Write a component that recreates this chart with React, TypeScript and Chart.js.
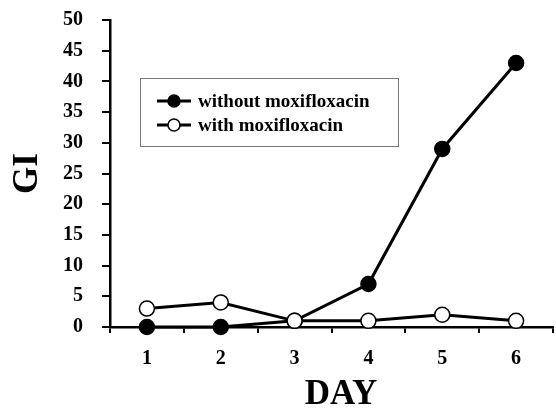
import React, { useEffect, useRef } from "react";
import { Chart, registerables } from "chart.js";

Chart.register(...registerables);

const days = ["1", "2", "3", "4", "5", "6"];
const withoutMoxi = [0, 0, 1, 7, 29, 43];
const withMoxi = [3, 4, 1, 1, 2, 1];
const legendLabels = ["without moxifloxacin", "with moxifloxacin"];
const xTitle = "DAY";
const yTitle = "GI";
const yMin = 0;
const yMax = 50;
const yStep = 5;

const FONT = '"Liberation Serif", "Times New Roman", serif';

const legendPlugin = {
  id: "boxLegend",
  afterDraw(chart: any) {
    const ctx = chart.ctx;
    ctx.save();
    const bx = 140, by = 78, bw = 258, bh = 68;
    ctx.strokeStyle = "#777";
    ctx.lineWidth = 1;
    ctx.strokeRect(bx + 0.5, by + 0.5, bw, bh);
    const rows = [
      { y: 101, fill: "#000" },
      { y: 125, fill: "#fff" },
    ];
    rows.forEach((r, i) => {
      ctx.strokeStyle = "#000";
      ctx.lineWidth = 3;
      ctx.beginPath();
      ctx.moveTo(157, r.y);
      ctx.lineTo(191, r.y);
      ctx.stroke();
      ctx.beginPath();
      ctx.arc(174, r.y, 6, 0, Math.PI * 2);
      ctx.fillStyle = r.fill;
      ctx.fill();
      ctx.lineWidth = 1.5;
      ctx.stroke();
      ctx.fillStyle = "#000";
      ctx.font = `bold 19px ${FONT}`;
      ctx.textBaseline = "middle";
      ctx.textAlign = "left";
      ctx.fillText(legendLabels[i], 198, r.y + 1);
    });
    // x-axis title
    ctx.font = `bold 35px ${FONT}`;
    ctx.textAlign = "center";
    ctx.textBaseline = "middle";
    ctx.fillStyle = "#000";
    ctx.fillText(xTitle, 341, 395);
    ctx.restore();
  },
};

export default function App() {
  const ref = useRef<HTMLCanvasElement>(null);
  useEffect(() => {
    if (!ref.current) return;
    const chart = new Chart(ref.current, {
      type: "line",
      data: {
        labels: days,
        datasets: [
          {
            label: legendLabels[0],
            data: withoutMoxi,
            borderColor: "#000",
            backgroundColor: "#000",
            pointBackgroundColor: "#000",
            pointBorderColor: "#000",
            borderWidth: 3,
            pointRadius: 7.5,
            pointBorderWidth: 1.5,
            order: 1,
            clip: false as any,
          },
          {
            label: legendLabels[1],
            data: withMoxi,
            borderColor: "#000",
            backgroundColor: "#fff",
            pointBackgroundColor: "#fff",
            pointBorderColor: "#000",
            borderWidth: 3,
            pointRadius: 7.5,
            pointBorderWidth: 1.5,
            order: 0,
            clip: false as any,
          },
        ],
      },
      options: {
        responsive: false,
        animation: false,
        layout: { padding: { top: 20, right: 2, left: 0, bottom: 0 } },
        plugins: { legend: { display: false }, tooltip: { enabled: false } },
        scales: {
          x: {
            type: "category",
            offset: true,
            afterFit(scale: any) {
              scale.height = 83;
              scale.paddingLeft = 0;
              scale.paddingRight = 0;
            },
            grid: {
              display: true,
              offset: true,
              drawOnChartArea: false,
              drawTicks: true,
              tickLength: 6,
              color: "#000",
              lineWidth: 2,
            },
            border: { display: true, color: "#000", width: 2.5 },
            ticks: {
              color: "#000",
              padding: 14,
              maxRotation: 0,
              font: { family: FONT, size: 20, weight: "bold" },
            },
          },
          y: {
            min: yMin,
            max: yMax,
            afterFit(scale: any) {
              scale.width = 110;
              scale.paddingTop = 0;
              scale.paddingBottom = 0;
            },
            grid: {
              display: true,
              drawOnChartArea: false,
              drawTicks: true,
              tickLength: 8,
              color: "#000",
              lineWidth: 2,
            },
            border: { display: true, color: "#000", width: 2.5 },
            ticks: {
              stepSize: yStep,
              color: "#000",
              padding: 19,
              autoSkip: false,
              font: { family: FONT, size: 20, weight: "bold" },
            },
            title: {
              display: true,
              text: yTitle,
              color: "#000",
              padding: { top: 10, bottom: 0 },
              font: { family: FONT, size: 35, weight: "bold", lineHeight: 1 },
            },
          },
        },
      },
      plugins: [legendPlugin],
    });
    return () => chart.destroy();
  }, []);
  return (
    <div
      style={{
        position: "absolute",
        left: 0,
        top: 0,
        width: 556,
        height: 410,
        overflow: "hidden",
        background: "#fff",
      }}
    >
      <canvas ref={ref} width={562} height={410} style={{ display: "block" }} />
    </div>
  );
}
